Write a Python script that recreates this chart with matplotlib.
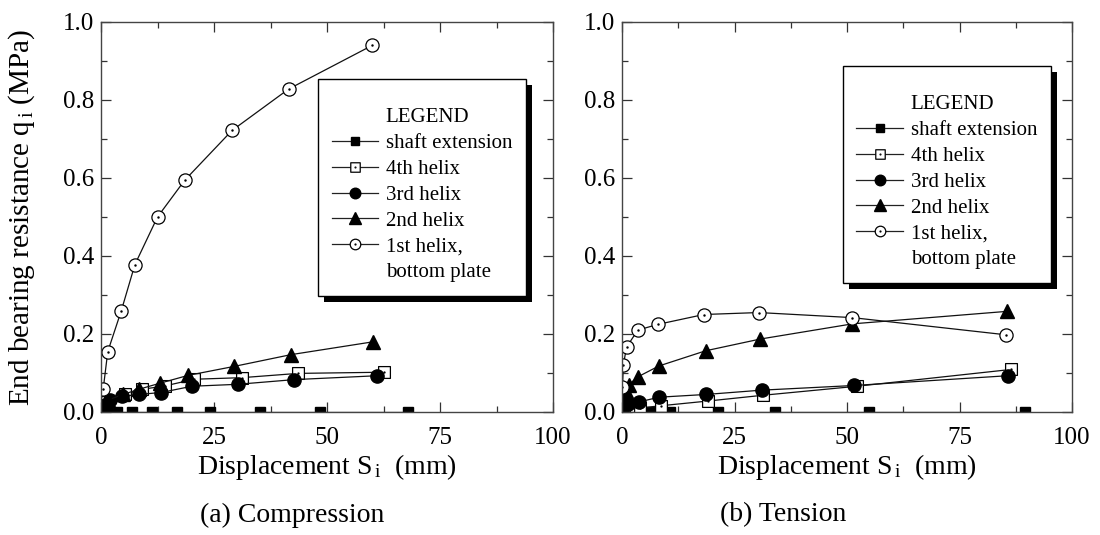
import matplotlib
matplotlib.use("Agg")
import matplotlib.pyplot as plt
from matplotlib.path import Path
from matplotlib.lines import Line2D
from matplotlib.patches import Rectangle
from matplotlib.transforms import IdentityTransform
from matplotlib.ticker import MultipleLocator

# ---------------- data ----------------
# (a) Compression
c_shaft_s = [0.3, 1.0, 3.5, 6.8, 11.2, 16.9, 24.1, 35.2, 48.5, 68.0]
c_shaft_q = [0.0, 0.0, 0.0, 0.0, 0.0, 0.0, 0.0, 0.0, 0.0, 0.0]
c_h4_s = [1.3, 5.3, 9.0, 14.2, 20.6, 31.1, 43.6, 62.5]
c_h4_q = [0.026, 0.045, 0.058, 0.067, 0.084, 0.088, 0.099, 0.102]
c_h3_s = [0.9, 2.0, 4.7, 8.4, 13.3, 20.1, 30.2, 42.7, 61.1]
c_h3_q = [0.018, 0.031, 0.040, 0.045, 0.050, 0.066, 0.071, 0.083, 0.093]
c_h2_s = [1.6, 4.9, 8.3, 13.1, 19.3, 29.5, 42.0, 60.2]
c_h2_q = [0.031, 0.045, 0.058, 0.074, 0.094, 0.117, 0.147, 0.180]
c_h1_s = [0.5, 1.5, 4.5, 7.5, 12.5, 18.5, 29.0, 41.5, 60.0]
c_h1_q = [0.060, 0.155, 0.260, 0.378, 0.500, 0.594, 0.722, 0.828, 0.940]

# (b) Tension
t_shaft_s = [0.4, 4.0, 6.0, 10.7, 21.3, 34.0, 54.9, 89.6]
t_shaft_q = [0.0, 0.0, 0.0, 0.0, 0.0, 0.0, 0.0, 0.0]
t_h4_s = [0.5, 3.9, 8.6, 19.0, 31.4, 52.2, 86.4]
t_h4_q = [0.008, 0.010, 0.016, 0.028, 0.043, 0.066, 0.109]
t_h3_s = [0.4, 1.4, 3.8, 8.3, 18.7, 31.0, 51.6, 85.7]
t_h3_q = [0.015, 0.020, 0.026, 0.038, 0.045, 0.056, 0.068, 0.093]
t_h2_s = [0.3, 0.8, 1.5, 3.5, 8.2, 18.6, 30.7, 51.2, 85.5]
t_h2_q = [0.035, 0.055, 0.070, 0.090, 0.118, 0.157, 0.187, 0.226, 0.258]
t_h1_s = [0.1, 0.3, 1.0, 3.5, 8.1, 18.2, 30.4, 51.2, 85.3]
t_h1_q = [0.065, 0.120, 0.166, 0.210, 0.225, 0.250, 0.255, 0.242, 0.198]

legend_labels = ["shaft extension", "4th helix", "3rd helix", "2nd helix", "1st helix,"]
x_ticks = [0, 25, 50, 75, 100]
y_ticks = [0.0, 0.2, 0.4, 0.6, 0.8, 1.0]
subtitles = ["(a) Compression", "(b) Tension"]

# ---------------- style ----------------
plt.rcParams["font.family"] = ["Liberation Serif", "DejaVu Serif"]
plt.rcParams["mathtext.fontset"] = "custom"
plt.rcParams["mathtext.rm"] = "Liberation Serif"
plt.rcParams["mathtext.it"] = "Liberation Serif:italic"

circ = Path.unit_circle()
dot = Path(circ.vertices * 0.09, circ.codes)
circ_dot = Path.make_compound_path(circ, dot)
sq = Path([(-1, -1), (1, -1), (1, 1), (-1, 1), (-1, -1)],
          [Path.MOVETO, Path.LINETO, Path.LINETO, Path.LINETO, Path.CLOSEPOLY])
sq_dot = Path.make_compound_path(sq, dot)

LC = "#111111"
LW = 0.9
styles = [
    dict(marker="s", ms=6.5, mfc="black", mec="black"),
    dict(marker=sq_dot, ms=8.5, mfc="white", mec="black", mew=0.9),
    dict(marker="o", ms=9.5, mfc="black", mec="black"),
    dict(marker="^", ms=10.5, mfc="black", mec="black"),
    dict(marker=circ_dot, ms=9.5, mfc="white", mec="black", mew=0.9),
]

W, H = 1100, 535
fig = plt.figure(figsize=(W / 100, H / 100), dpi=100)
ax1 = fig.add_axes([101 / W, (H - 412) / H, 452 / W, 390 / H])
ax2 = fig.add_axes([622 / W, (H - 412) / H, 450 / W, 390 / H])

panels = [
    (ax1, [(c_shaft_s, c_shaft_q), (c_h4_s, c_h4_q), (c_h3_s, c_h3_q), (c_h2_s, c_h2_q), (c_h1_s, c_h1_q)]),
    (ax2, [(t_shaft_s, t_shaft_q), (t_h4_s, t_h4_q), (t_h3_s, t_h3_q), (t_h2_s, t_h2_q), (t_h1_s, t_h1_q)]),
]
legend_anchor = [(0.48, 0.854), (0.491, 0.887)]

for i, (ax, series) in enumerate(panels):
    handles = []
    for (s, q), st in zip(series, styles):
        h, = ax.plot(s, q, color=LC, lw=LW, linestyle="-", **st)
        handles.append(h)
    ax.set_xlim(0, 100)
    ax.set_ylim(0, 1.0)
    ax.set_xticks(x_ticks)
    ax.set_xticklabels([str(v) for v in x_ticks])
    ax.set_yticks(y_ticks)
    ax.set_yticklabels(["%.1f" % v for v in y_ticks])
    ax.xaxis.set_minor_locator(MultipleLocator(12.5))
    ax.yaxis.set_minor_locator(MultipleLocator(0.1))
    ax.tick_params(which="both", direction="in", top=True, right=True,
                   colors="#333333", labelcolor="black", width=0.9)
    ax.tick_params(which="major", length=7, labelsize=18)
    ax.tick_params(which="minor", length=4)
    ax.tick_params(axis="x", which="major", pad=11)
    ax.tick_params(axis="y", which="major", pad=5)
    for sp in ax.spines.values():
        sp.set_color("#444444")
        sp.set_linewidth(1.0)

    ax.set_xlabel(r"Displacement S$_{\,\mathrm{i}}$  (mm)", fontsize=20)
    ax.xaxis.set_label_coords(0.5, -0.14)
    ax.xaxis.label.set_va("center")

    blank = Line2D([], [], linestyle="none", marker="none")
    leg_handles = [blank] + handles + [blank]
    leg_labels = ["LEGEND"] + legend_labels + ["bottom plate"]
    leg = ax.legend(leg_handles, leg_labels, loc="upper left",
                    bbox_to_anchor=legend_anchor[i], borderaxespad=0,
                    fontsize=15, title=" ", title_fontsize=7,
                    frameon=True, fancybox=False, framealpha=1,
                    edgecolor="black", borderpad=0.65, labelspacing=0.3,
                    handlelength=2.25, handletextpad=0.35, markerscale=0.8)
    leg.get_frame().set_linewidth(1.0)
    for ln in leg.get_lines():
        ln.set_color("#222222")

ax1.set_ylabel(r"End bearing resistance q$_{\,\mathrm{i}}$ (MPa)", fontsize=21)
ax1.yaxis.set_label_coords(-0.175, 0.5)
ax1.yaxis.label.set_va("center")

fig.text(200 / W, 1 - 515 / H, subtitles[0], fontsize=20, ha="left", va="center")
fig.text(720 / W, 1 - 515 / H, subtitles[1], fontsize=20, ha="left", va="center")

# legend drop shadows
fig.canvas.draw()
for ax in (ax1, ax2):
    leg = ax.get_legend()
    bb = leg.get_frame().get_window_extent()
    shadow = Rectangle((bb.x0 + 6, bb.y0 - 6), bb.width, bb.height,
                       transform=IdentityTransform(), facecolor="black",
                       edgecolor="none", zorder=leg.get_zorder() - 0.1,
                       clip_on=False)
    ax.add_artist(shadow)

fig.savefig("out.png", dpi=100)
